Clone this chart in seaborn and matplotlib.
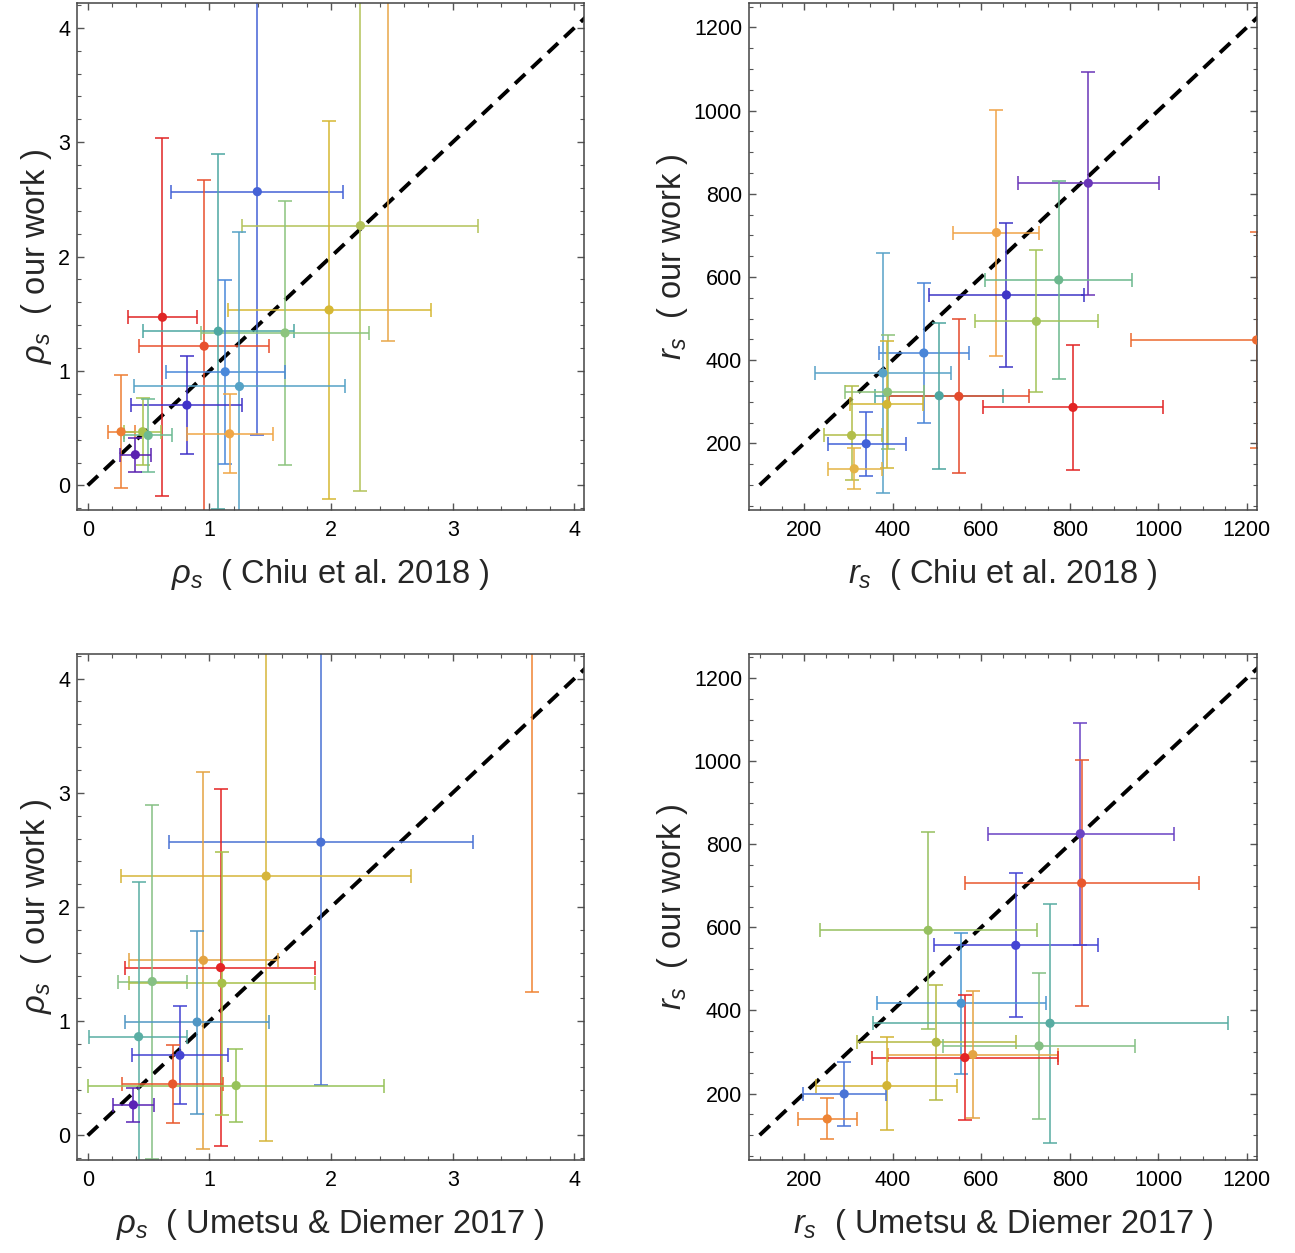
import numpy as np
import pandas as pd
import matplotlib
matplotlib.use("Agg")
import matplotlib.pyplot as plt
from matplotlib.ticker import MultipleLocator
import seaborn as sns

# rho_s from our work (shared by both rho panels)
rho_ours = [2.568, 2.271, 1.534, 4.60, 1.470, 1.217, 1.348, 1.333, 0.993, 0.865, 0.702, 0.451, 0.469, 0.469, 0.437, 0.268]
rho_ours_lo = [0.44, -0.05, -0.12, 1.258, -0.093, -0.23, -0.205, 0.178, 0.189, -0.35, 0.277, 0.111, -0.023, 0.178, 0.116, 0.119]
rho_ours_hi = [4.70, 4.59, 3.185, 8.0, 3.033, 2.670, 2.897, 2.486, 1.793, 2.215, 1.130, 0.795, 0.964, 0.766, 0.754, 0.413]

# rho_s Chiu et al. 2018
rho_chiu = [1.394, 2.242, 1.984, 2.467, 0.614, 0.957, 1.073, 1.622, 1.130, 1.247, 0.815, 1.166, 0.274, 0.451, 0.497, 0.391]
rho_chiu_lo = [0.685, 1.272, 1.149, 2.0, 0.329, 0.424, 0.457, 0.935, 0.644, 0.380, 0.359, 0.815, 0.163, 0.299, 0.299, 0.261]
rho_chiu_hi = [2.10, 3.207, 2.821, 3.0, 0.899, 1.492, 1.693, 2.313, 1.620, 2.114, 1.272, 1.519, 0.386, 0.601, 0.696, 0.522]
rho_chiu_colors = ["#4562d6", "#b3c25a", "#d6b834", "#e8a84a", "#e02626", "#e8502e", "#4ea8a2", "#8cc47e",
                   "#4a88da", "#55a2c6", "#4032c8", "#f0a646", "#ee7e34", "#a8c24e", "#6cba92", "#5a22b0"]

# rho_s Umetsu & Diemer 2017 (subset of clusters)
rho_umetsu_idx = [0, 1, 2, 3, 4, 6, 7, 8, 9, 10, 11, 14, 15]
rho_umetsu = [1.916, 1.467, 0.951, 3.655, 1.092, 0.530, 1.103, 0.899, 0.418, 0.758, 0.698, 1.220, 0.375]
rho_umetsu_lo = [0.666, 0.277, 0.340, 3.2, 0.307, 0.245, 0.340, 0.307, 0.014, 0.367, 0.285, 0.005, 0.209]
rho_umetsu_hi = [3.166, 2.655, 1.563, 4.1, 1.872, 0.818, 1.872, 1.492, 0.818, 1.152, 1.114, 2.432, 0.541]
rho_umetsu_colors = ["#4a72d4", "#d6b53a", "#e4a442", "#f08434", "#e42424", "#86c084", "#a8c04a",
                     "#5096c4", "#5aaea4", "#4444d2", "#e8582c", "#96c25a", "#5a24b6"]

# r_s from our work (shared by both r_s panels)
r_ours = [825.5, 706.8, 556.9, 593.0, 493.5, 286.6, 448.6, 417.3, 369.2, 314.7, 313.1, 323.5, 293.8, 219.2, 199.2, 139.0]
r_ours_lo = [557.7, 411.0, 383.6, 355.6, 324.3, 135.8, 188.8, 248.1, 81.3, 139.1, 127.8, 185.6, 141.5, 112.6, 122.2, 90.1]
r_ours_hi = [1093.0, 1002.0, 730.0, 830.3, 665.0, 437.4, 708.4, 586.5, 657.1, 490.3, 498.3, 460.6, 447.0, 337.1, 275.4, 188.8]

# r_s Chiu et al. 2018
r_chiu = [842.0, 634.6, 657.1, 775.2, 724.8, 807.5, 1222.0, 470.7, 378.2, 505.3, 549.6, 388.7, 387.2, 307.5, 340.6, 313.5]
r_chiu_lo = [683.5, 537.6, 482.7, 609.8, 587.2, 604.5, 939.0, 368.4, 224.0, 360.9, 392.5, 293.2, 304.5, 244.4, 254.9, 253.4]
r_chiu_hi = [1000.8, 731.6, 831.6, 941.4, 863.9, 1009.8, 1500.0, 572.2, 532.3, 650.4, 708.3, 470.7, 467.7, 376.7, 430.6, 376.7]
r_chiu_colors = ["#6a36b8", "#f0a448", "#3e36c6", "#6cb88e", "#a4c45a", "#e22424", "#ec6a30", "#4a86d8",
                 "#58a2c8", "#4ea6a0", "#e44a2c", "#8cc27a", "#d2b632", "#b2be4a", "#4262d8", "#e4b446"]

# r_s Umetsu & Diemer 2017 (subset of clusters)
r_umetsu_idx = [0, 1, 2, 3, 7, 8, 11, 9, 12, 5, 13, 14, 15]
r_umetsu = [824.0, 827.0, 678.2, 480.5, 554.9, 755.6, 498.5, 730.8, 581.2, 563.2, 387.2, 290.9, 252.6]
r_umetsu_lo = [615.0, 564.7, 493.2, 235.3, 365.4, 354.9, 320.3, 515.0, 388.7, 352.6, 227.8, 197.0, 185.7]
r_umetsu_hi = [1034.6, 1091.0, 864.7, 726.3, 745.9, 1157.1, 678.2, 948.1, 773.7, 773.7, 545.9, 385.0, 319.5]
r_umetsu_colors = ["#6a44c4", "#e8582e", "#4444d4", "#96c060", "#4a96d2", "#58aca2", "#b4ba44",
                   "#84c084", "#e4a444", "#e42424", "#d2b434", "#4a74d6", "#ee8434"]

diag_rho = [0.0, 4.3]
diag_r = [100.0, 1300.0]

sns.set_theme(style="ticks")
plt.rcParams['font.family'] = ['Liberation Sans', 'DejaVu Sans']
plt.rcParams['mathtext.fontset'] = 'custom'
plt.rcParams['mathtext.rm'] = 'Liberation Sans'
plt.rcParams['mathtext.it'] = 'Liberation Sans:italic'
plt.rcParams['axes.edgecolor'] = '#444444'
plt.rcParams['axes.linewidth'] = 1.1


def make_frame(x, xlo, xhi, y, ylo, yhi, colors):
    df = pd.DataFrame({'x': x, 'xlo': xlo, 'xhi': xhi, 'y': y, 'ylo': ylo, 'yhi': yhi})
    df['cl'] = [f"c{i}" for i in range(len(df))]
    df['color'] = colors
    return df


def draw_panel(ax, df, diag, xlim, ylim, major, minor, xlabel, ylabel):
    ax.plot(diag, diag, color='black', lw=2.8, dashes=(3.6, 2.2), zorder=1)
    for _, row in df.iterrows():
        ax.errorbar(row.x, row.y,
                    xerr=[[row.x - row.xlo], [row.xhi - row.x]],
                    yerr=[[row.y - row.ylo], [row.yhi - row.y]],
                    fmt='none', ecolor=row.color, elinewidth=1.3, capsize=5, capthick=1.3,
                    alpha=0.85, zorder=2)
    sns.scatterplot(data=df, x='x', y='y', hue='cl', palette=list(df['color']),
                    s=44, edgecolor='none', legend=False, ax=ax, zorder=3)
    ax.set_xlim(*xlim)
    ax.set_ylim(*ylim)
    ax.xaxis.set_major_locator(MultipleLocator(major))
    ax.xaxis.set_minor_locator(MultipleLocator(minor))
    ax.yaxis.set_major_locator(MultipleLocator(major))
    ax.yaxis.set_minor_locator(MultipleLocator(minor))
    ax.tick_params(which='both', direction='in', top=True, right=True, color='#555555')
    ax.tick_params(which='major', length=5, width=1.0, labelsize=15.5, labelcolor='black')
    ax.tick_params(axis='x', which='major', pad=7)
    ax.tick_params(axis='y', which='major', pad=5)
    ax.tick_params(which='minor', length=2.6, width=0.8)
    ax.set_xlabel(xlabel, fontsize=23.5, labelpad=12)
    ax.set_ylabel(ylabel, fontsize=23.5, labelpad=3)


fig = plt.figure(figsize=(12.95, 12.53), dpi=100)
ax1 = fig.add_axes([0.0595, 0.5930, 0.3915, 0.4044])
ax2 = fig.add_axes([0.5784, 0.5930, 0.3923, 0.4044])
ax3 = fig.add_axes([0.0595, 0.0742, 0.3915, 0.4038])
ax4 = fig.add_axes([0.5784, 0.0742, 0.3923, 0.4038])

rho_lim_x = (-0.088, 4.08)
rho_lim_y = (-0.215, 4.215)
r_lim_x = (76, 1223)
r_lim_y = (40, 1258)

df1 = make_frame(rho_chiu, rho_chiu_lo, rho_chiu_hi, rho_ours, rho_ours_lo, rho_ours_hi, rho_chiu_colors)
draw_panel(ax1, df1, diag_rho, rho_lim_x, rho_lim_y, 1, 0.2,
           r"$\rho_s$  ( Chiu et al. 2018 )", r"$\rho_s$  ( our work )")

df2 = make_frame(r_chiu, r_chiu_lo, r_chiu_hi, r_ours, r_ours_lo, r_ours_hi, r_chiu_colors)
draw_panel(ax2, df2, diag_r, r_lim_x, r_lim_y, 200, 50,
           r"$r_s$  ( Chiu et al. 2018 )", r"$r_s$  ( our work )")

df3 = make_frame(rho_umetsu, rho_umetsu_lo, rho_umetsu_hi,
                 [rho_ours[i] for i in rho_umetsu_idx], [rho_ours_lo[i] for i in rho_umetsu_idx],
                 [rho_ours_hi[i] for i in rho_umetsu_idx], rho_umetsu_colors)
draw_panel(ax3, df3, diag_rho, rho_lim_x, rho_lim_y, 1, 0.2,
           r"$\rho_s$  ( Umetsu & Diemer 2017 )", r"$\rho_s$  ( our work )")

df4 = make_frame(r_umetsu, r_umetsu_lo, r_umetsu_hi,
                 [r_ours[i] for i in r_umetsu_idx], [r_ours_lo[i] for i in r_umetsu_idx],
                 [r_ours_hi[i] for i in r_umetsu_idx], r_umetsu_colors)
draw_panel(ax4, df4, diag_r, r_lim_x, r_lim_y, 200, 50,
           r"$r_s$  ( Umetsu & Diemer 2017 )", r"$r_s$  ( our work )")

fig.savefig("out.png", dpi=100)
